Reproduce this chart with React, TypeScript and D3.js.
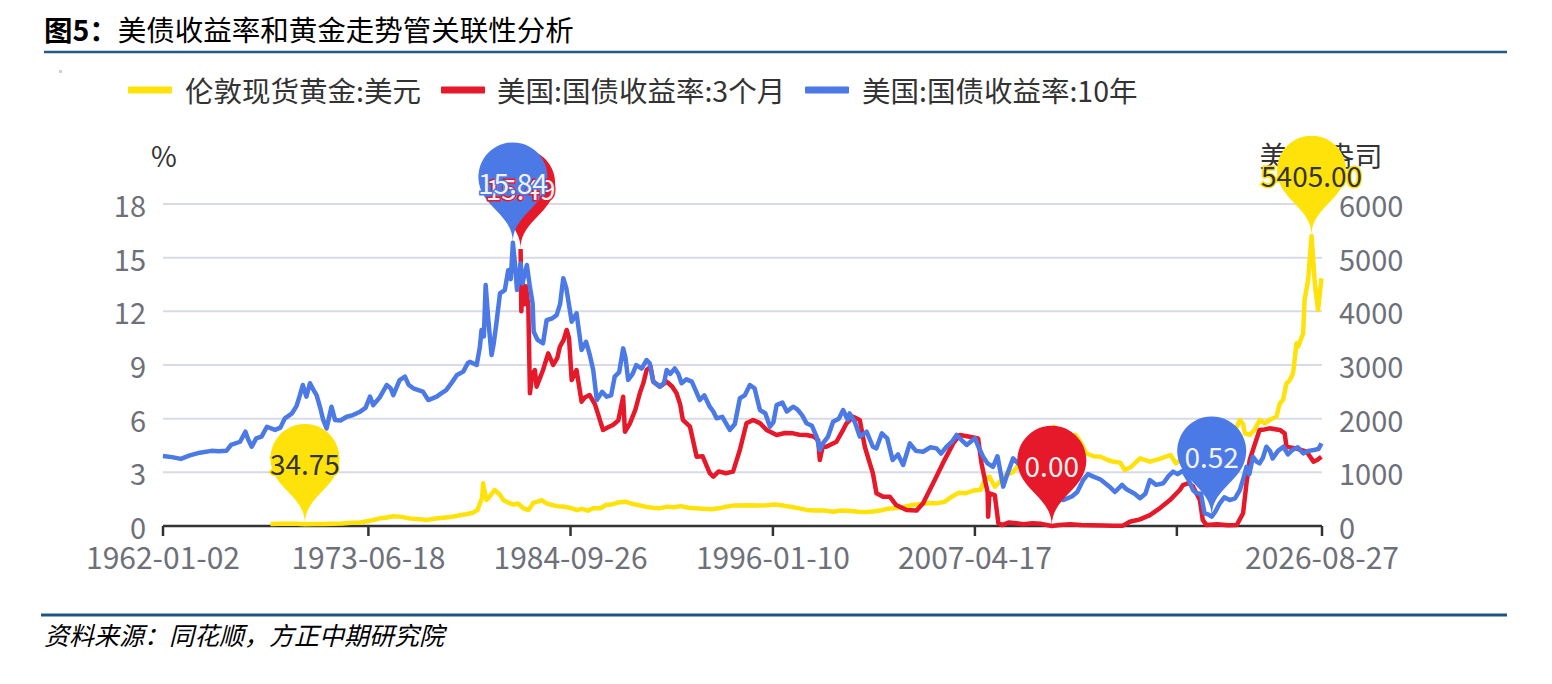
import React from "react";
import * as d3 from "d3";

const TITLE_BOLD = "图5：";
const TITLE_REST = "美债收益率和黄金走势管关联性分析";
const SOURCE = "资料来源：同花顺，方正中期研究院";
const LEGEND_NAMES = ["伦敦现货黄金:美元", "美国:国债收益率:3个月", "美国:国债收益率:10年"];
const X_TICK_DATES = ["1962-01-02", "1973-06-18", "1984-09-26", "1996-01-10", "2007-04-17", "2018-07-23", "2026-08-27"];
const X_TICK_LABELS = ["1962-01-02", "1973-06-18", "1984-09-26", "1996-01-10", "2007-04-17", "", "2026-08-27"];
const LEFT_TICKS = [0, 3, 6, 9, 12, 15, 18];
const RIGHT_TICKS = [0, 1000, 2000, 3000, 4000, 5000, 6000];
const LEFT_NAME = "%";
const RIGHT_NAME = "美元/盎司";

// [decimal year, USD/oz]
const gold: [number, number][] = [
  [1968.0, 38], [1968.5, 40], [1969.0, 42], [1969.5, 41], [1969.92, 34.75], [1970.5, 36], [1971.0, 38],
  [1971.5, 41], [1972.0, 46], [1972.5, 62], [1973.0, 65], [1973.4, 90], [1973.73, 112], [1974.1, 143],
  [1974.5, 160], [1974.85, 180], [1975.3, 170], [1975.8, 140], [1976.3, 128], [1976.7, 110], [1977.2, 140],
  [1977.8, 160], [1978.2, 175], [1978.56, 200], [1978.9, 220], [1979.3, 248], [1979.55, 300], [1979.68, 423],
  [1979.8, 520], [1979.86, 795], [1979.92, 680], [1980.05, 484], [1980.25, 560], [1980.5, 671], [1980.75, 600],
  [1981.0, 480], [1981.3, 430], [1981.54, 400], [1981.8, 420], [1982.1, 330], [1982.4, 298], [1982.65, 430],
  [1982.9, 453], [1983.15, 480], [1983.4, 420], [1983.7, 391], [1984.0, 370], [1984.4, 360], [1984.8, 330],
  [1985.1, 298], [1985.4, 320], [1985.7, 286], [1986.0, 330], [1986.4, 329], [1986.7, 391], [1987.0, 400],
  [1987.4, 440], [1987.8, 453], [1988.1, 420], [1988.5, 391], [1988.9, 360], [1989.3, 340], [1989.7, 329],
  [1990.1, 360], [1990.5, 350], [1990.9, 370], [1991.3, 340], [1991.7, 330], [1992.1, 320], [1992.6, 311],
  [1993.0, 329], [1993.4, 360], [1993.8, 380], [1994.2, 380], [1994.7, 385], [1995.2, 380], [1995.7, 385],
  [1996.1, 400], [1996.6, 380], [1997.0, 360], [1997.5, 329], [1997.9, 300], [1998.4, 290], [1998.9, 290],
  [1999.4, 267], [1999.8, 290], [2000.2, 285], [2000.8, 267], [2001.2, 260], [2001.6, 270], [2002.0, 290],
  [2002.4, 320], [2002.8, 330], [2003.3, 350], [2003.8, 391], [2004.3, 410], [2004.8, 430], [2005.15, 423],
  [2005.6, 450], [2006.0, 546], [2006.4, 620], [2006.8, 610], [2007.2, 660], [2007.6, 671], [2007.85, 857],
  [2008.1, 919], [2008.4, 733], [2008.7, 830], [2009.0, 950], [2009.4, 1000], [2009.8, 1168], [2010.2, 1120],
  [2010.6, 1250], [2011.0, 1420], [2011.4, 1550], [2011.7, 1850], [2012.0, 1700], [2012.5, 1650],
  [2012.9, 1700], [2013.2, 1550], [2013.5, 1355], [2013.9, 1300], [2014.3, 1291], [2014.7, 1230],
  [2015.0, 1200], [2015.4, 1180], [2015.65, 1043], [2016.0, 1100], [2016.5, 1261], [2017.05, 1198],
  [2017.6, 1250], [2018.2, 1323], [2018.5, 1168], [2019.0, 1290], [2019.5, 1400], [2019.9, 1500],
  [2020.3, 1700], [2020.6, 1950], [2021.0, 1850], [2021.5, 1800], [2021.9, 1850], [2022.07, 1975],
  [2022.25, 1900], [2022.35, 1727], [2022.62, 1696], [2022.9, 1800], [2023.18, 1975], [2023.46, 1913],
  [2023.8, 1990], [2024.11, 2037], [2024.3, 2286], [2024.48, 2348], [2024.67, 2659], [2024.86, 2720],
  [2025.04, 2845], [2025.23, 3404], [2025.32, 3341], [2025.6, 3590], [2025.68, 4211], [2025.88, 4584],
  [2026.07, 5405], [2026.25, 4522], [2026.43, 4025], [2026.62, 4615],
];

// [decimal year, %]
const bill3m: [number, number][] = [
  [1981.95, 15.49], [1981.99, 12.0], [1982.05, 13.6], [1982.15, 12.4], [1982.25, 13.4], [1982.38, 12.26],
  [1982.47, 7.42], [1982.6, 8.5], [1982.75, 8.72], [1982.84, 7.79], [1983.0, 8.2], [1983.2, 8.72],
  [1983.49, 9.65], [1983.77, 9.0], [1984.0, 9.4], [1984.14, 10.02], [1984.35, 10.4], [1984.52, 10.96],
  [1984.65, 10.5], [1984.8, 8.16], [1985.07, 8.72], [1985.35, 6.95], [1985.55, 7.2], [1985.8, 7.32],
  [1986.1, 6.8], [1986.37, 5.93], [1986.55, 5.37], [1986.8, 5.5], [1987.1, 5.65], [1987.4, 5.9],
  [1987.67, 7.23], [1987.77, 5.27], [1988.05, 5.74], [1988.35, 6.5], [1988.6, 7.42], [1988.8, 8.0],
  [1988.98, 8.72], [1989.2, 8.9], [1989.35, 8.07], [1989.72, 7.79], [1990.1, 8.07], [1990.4, 7.8],
  [1990.65, 7.42], [1990.85, 6.8], [1991.0, 5.93], [1991.4, 5.55], [1991.77, 3.87], [1992.1, 3.9],
  [1992.5, 2.95], [1992.7, 2.76], [1993.0, 3.05], [1993.4, 2.95], [1993.8, 3.04], [1994.18, 4.25],
  [1994.55, 5.74], [1994.92, 5.93], [1995.3, 5.75], [1995.67, 5.37], [1996.23, 5.09], [1996.7, 5.2],
  [1997.15, 5.18], [1997.5, 5.1], [1997.9, 5.09], [1998.3, 5.0], [1998.55, 4.8], [1998.64, 3.69],
  [1998.8, 4.43], [1999.0, 4.43], [1999.57, 4.71], [1999.9, 5.3], [2000.13, 5.74], [2000.5, 6.11],
  [2000.87, 5.93], [2001.15, 4.43], [2001.43, 3.5], [2001.6, 2.95], [2001.8, 1.83], [2002.17, 1.64],
  [2002.54, 1.64], [2002.9, 1.17], [2003.48, 0.89], [2004.03, 0.86], [2004.4, 1.27], [2004.96, 2.39],
  [2005.5, 3.5], [2006.08, 4.62], [2006.45, 5.09], [2007.0, 4.99], [2007.47, 4.9], [2007.66, 3.5],
  [2007.85, 2.57], [2008.0, 1.9], [2008.03, 0.52], [2008.1, 1.83], [2008.4, 1.73], [2008.6, 0.15],
  [2008.8, 0.05], [2009.2, 0.2], [2009.6, 0.15], [2010.0, 0.1], [2010.5, 0.15], [2011.0, 0.12],
  [2011.58, 0.0], [2012.0, 0.05], [2012.6, 0.1], [2013.2, 0.06], [2013.8, 0.04], [2014.5, 0.03],
  [2015.0, 0.02], [2015.55, 0.02], [2015.93, 0.24], [2016.5, 0.37], [2017.05, 0.61], [2017.6, 0.99],
  [2018.17, 1.45], [2018.72, 2.01], [2018.9, 2.29], [2019.2, 2.4], [2019.46, 2.2], [2019.84, 1.45],
  [2020.0, 0.34], [2020.2, 0.06], [2020.8, 0.1], [2021.4, 0.04], [2021.9, 0.06], [2022.25, 0.71],
  [2022.44, 2.39], [2022.62, 3.69], [2022.85, 4.4], [2023.17, 5.37], [2023.45, 5.4], [2023.73, 5.46],
  [2024.3, 5.37], [2024.57, 5.18], [2024.67, 4.43], [2025.2, 4.34], [2025.8, 4.15], [2026.18, 3.59],
  [2026.4, 3.7], [2026.62, 3.87],
];

// [decimal year, %]
const note10y: [number, number][] = [
  [1962.0, 3.91], [1962.5, 3.85], [1963.0, 3.75], [1963.5, 3.95], [1964.06, 4.1], [1964.7, 4.2],
  [1965.1, 4.18], [1965.55, 4.21], [1965.8, 4.53], [1966.3, 4.71], [1966.6, 5.27], [1966.75, 4.85],
  [1966.95, 4.43], [1967.2, 4.9], [1967.5, 5.0], [1967.8, 5.55], [1968.25, 5.37], [1968.55, 5.5],
  [1968.8, 6.02], [1969.2, 6.3], [1969.45, 6.7], [1969.64, 7.32], [1969.8, 7.88], [1970.0, 7.23],
  [1970.2, 7.98], [1970.4, 7.6], [1970.57, 7.32], [1970.8, 6.5], [1970.94, 5.93], [1971.13, 5.46],
  [1971.4, 6.67], [1971.6, 5.93], [1971.9, 5.9], [1972.25, 6.11], [1972.6, 6.2], [1973.0, 6.39],
  [1973.3, 6.6], [1973.55, 7.23], [1973.73, 6.76], [1974.1, 7.2], [1974.48, 7.88], [1974.7, 7.7],
  [1974.85, 7.32], [1975.2, 8.16], [1975.5, 8.35], [1975.7, 7.9], [1975.96, 7.7], [1976.5, 7.51],
  [1976.8, 7.04], [1977.27, 7.23], [1977.5, 7.4], [1977.8, 7.6], [1978.1, 8.0], [1978.4, 8.44],
  [1978.75, 8.63], [1979.0, 9.1], [1979.12, 9.18], [1979.5, 9.0], [1979.68, 10.02], [1979.77, 10.96],
  [1979.9, 10.6], [1980.0, 13.47], [1980.15, 11.5], [1980.33, 9.56], [1980.45, 10.2], [1980.6, 11.33],
  [1980.8, 13.0], [1981.07, 13.19], [1981.26, 14.3], [1981.4, 13.8], [1981.52, 15.84], [1981.65, 14.5],
  [1981.75, 13.19], [1981.95, 14.68], [1982.05, 13.56], [1982.3, 14.59], [1982.45, 13.5], [1982.62, 12.45],
  [1982.68, 10.86], [1982.9, 10.4], [1983.2, 10.21], [1983.4, 11.51], [1983.7, 11.6], [1983.96, 11.79],
  [1984.15, 12.4], [1984.33, 13.85], [1984.5, 13.3], [1984.8, 11.42], [1985.07, 11.89], [1985.35, 9.84],
  [1985.6, 10.3], [1985.8, 9.6], [1986.0, 8.72], [1986.2, 7.04], [1986.5, 7.5], [1986.75, 7.23],
  [1987.0, 7.3], [1987.2, 8.35], [1987.45, 8.6], [1987.67, 9.93], [1987.8, 9.4], [1987.95, 8.16],
  [1988.2, 8.5], [1988.4, 9.0], [1988.7, 8.8], [1988.98, 9.28], [1989.15, 9.1], [1989.35, 8.07],
  [1989.72, 7.79], [1989.95, 8.0], [1990.1, 8.72], [1990.3, 8.5], [1990.55, 8.81], [1990.75, 8.5],
  [1990.93, 7.98], [1991.2, 8.2], [1991.5, 8.07], [1991.75, 7.5], [1991.95, 7.04], [1992.2, 7.3],
  [1992.5, 6.67], [1992.7, 6.4], [1992.88, 6.02], [1993.2, 6.1], [1993.62, 5.37], [1993.9, 5.7],
  [1994.18, 7.14], [1994.45, 7.3], [1994.74, 7.88], [1995.0, 7.7], [1995.3, 6.48], [1995.6, 6.3],
  [1995.86, 5.55], [1996.05, 5.8], [1996.23, 6.76], [1996.55, 6.9], [1996.8, 6.4], [1997.15, 6.67],
  [1997.4, 6.5], [1997.65, 6.2], [1997.9, 5.74], [1998.2, 5.6], [1998.46, 4.99], [1998.64, 4.25],
  [1998.8, 4.6], [1999.1, 5.0], [1999.38, 5.83], [1999.7, 6.0], [1999.94, 6.48], [2000.2, 5.93],
  [2000.3, 6.3], [2000.6, 5.8], [2000.87, 5.0], [2001.25, 5.27], [2001.6, 4.43], [2001.8, 4.34],
  [2002.1, 5.18], [2002.4, 4.9], [2002.7, 3.69], [2003.0, 4.0], [2003.29, 3.41], [2003.66, 4.62],
  [2004.0, 4.2], [2004.4, 4.15], [2004.8, 4.4], [2005.15, 4.34], [2005.4, 4.05], [2005.71, 4.43],
  [2006.0, 4.7], [2006.27, 5.09], [2006.55, 4.8], [2006.83, 4.53], [2007.1, 4.75], [2007.3, 4.9],
  [2007.5, 4.4], [2007.75, 3.87], [2008.0, 3.5], [2008.3, 3.31], [2008.55, 3.9], [2008.87, 2.2],
  [2009.1, 2.9], [2009.42, 3.78], [2009.8, 3.4], [2010.17, 3.7], [2010.5, 2.8], [2010.9, 3.3],
  [2011.2, 3.5], [2011.6, 2.1], [2011.9, 1.9], [2012.2, 1.45], [2012.7, 1.65], [2013.0, 1.9],
  [2013.33, 2.57], [2013.6, 2.9], [2013.9, 2.76], [2014.3, 2.6], [2014.8, 2.2], [2015.1, 1.9],
  [2015.5, 2.3], [2015.75, 2.05], [2016.2, 1.8], [2016.5, 1.55], [2016.8, 1.8], [2017.05, 2.57],
  [2017.4, 2.3], [2017.8, 2.39], [2018.1, 2.8], [2018.35, 3.04], [2018.6, 2.9], [2018.9, 3.1],
  [2019.2, 2.6], [2019.46, 2.01], [2019.65, 1.83], [2019.9, 1.8], [2020.1, 0.71], [2020.3, 0.65],
  [2020.5, 0.52], [2020.7, 0.8], [2020.95, 1.27], [2021.2, 1.6], [2021.5, 1.45], [2021.8, 1.55],
  [2022.07, 2.01], [2022.25, 2.6], [2022.44, 3.31], [2022.6, 2.9], [2022.8, 3.87], [2023.0, 3.6],
  [2023.17, 3.5], [2023.35, 3.8], [2023.55, 4.43], [2023.75, 4.2], [2023.9, 3.78], [2024.2, 4.2],
  [2024.5, 4.43], [2024.75, 4.0], [2025.0, 4.25], [2025.3, 4.4], [2025.6, 4.06], [2025.9, 4.2],
  [2026.2, 4.25], [2026.45, 4.3], [2026.62, 4.62],
];

const GOLD = "#ffe20a";
const RED = "#e6192b";
const BLUE = "#4b79e6";
const FONT = '"Noto Sans CJK SC", "Noto Sans", sans-serif';

const toYear = (s: string) => {
  const d = new Date(s + "T00:00:00Z");
  const y = d.getUTCFullYear();
  const a = Date.UTC(y, 0, 1);
  const b = Date.UTC(y + 1, 0, 1);
  return y + (d.getTime() - a) / (b - a);
};

const PLOT = { left: 163, right: 1322, top: 204, bottom: 526 };

const x = d3.scaleLinear().domain([toYear(X_TICK_DATES[0]), toYear(X_TICK_DATES[X_TICK_DATES.length - 1])]).range([PLOT.left, PLOT.right]);
const yL = d3.scaleLinear().domain([0, 18]).range([PLOT.bottom, PLOT.top]);
const yR = d3.scaleLinear().domain([0, 6000]).range([PLOT.bottom, PLOT.top]);

function pinPath(px: number, py: number, S: number) {
  const w = (S / 5) * 3;
  const h = Math.max(w, S);
  const r = w / 2;
  const dy = (r * r) / (h - r);
  const cy = py - h + r + dy;
  const angle = Math.asin(dy / r);
  const dx = Math.cos(angle) * r;
  const tanX = Math.sin(angle);
  const tanY = Math.cos(angle);
  const cpLen = r * 0.6;
  const cpLen2 = r * 0.7;
  const p = d3.path();
  p.moveTo(px - dx, cy + dy);
  p.arc(px, cy, r, Math.PI - angle, Math.PI * 2 + angle);
  p.bezierCurveTo(px + dx - tanX * cpLen, cy + dy + tanY * cpLen, px, py - cpLen2, px, py);
  p.bezierCurveTo(px, py - cpLen2, px - dx + tanX * cpLen, cy + dy + tanY * cpLen, px - dx, cy + dy);
  p.closePath();
  return p.toString();
}

type Pin = { px: number; py: number; label: string; color: string; textColor: string };

function extremes(data: [number, number][], ys: d3.ScaleLinear<number, number>, color: string, textColor: string, digits: number): Pin[] {
  const mn = data.reduce((a, b) => (b[1] < a[1] ? b : a));
  const mx = data.reduce((a, b) => (b[1] > a[1] ? b : a));
  return [mx, mn].map((d) => ({ px: x(d[0]), py: ys(d[1]), label: d[1].toFixed(digits), color, textColor }));
}

export default function App() {
  const lineL = d3.line<[number, number]>().x((d) => x(d[0])).y((d) => yL(d[1]));
  const lineR = d3.line<[number, number]>().x((d) => x(d[0])).y((d) => yR(d[1]));

  const pins: Pin[] = [
    ...extremes(gold, yR, GOLD, "#333", 2),
    ...extremes(bill3m, yL, RED, "#f2f2f2", 2),
    ...extremes(note10y, yL, BLUE, "#f2f2f2", 2),
  ];
  const S = 115;

  const legendItems = [
    { name: LEGEND_NAMES[0], color: GOLD, lx: 128, tx: 185 },
    { name: LEGEND_NAMES[1], color: RED, lx: 441, tx: 497 },
    { name: LEGEND_NAMES[2], color: BLUE, lx: 805, tx: 862 },
  ];

  return (
    <svg width={1552} height={684} style={{ position: "absolute", left: 0, top: 0, background: "#fff" }} fontFamily={FONT}>
      <rect x={0} y={0} width={1552} height={684} fill="#fff" />
      {/* title */}
      <text x={44} y={41} fontSize={28.5} fill="#000">
        <tspan fontWeight="bold">{TITLE_BOLD}</tspan>
        <tspan>{TITLE_REST}</tspan>
      </text>
      <line x1={44} x2={1507} y1={52} y2={52} stroke="#215a8e" strokeWidth={2.5} />
      <rect x={59} y={70} width={3} height={3} fill="#d0d0d0" />

      {/* legend */}
      {legendItems.map((l) => (
        <g key={l.name}>
          <rect x={l.lx} y={86.5} width={44} height={7} fill={l.color} rx={1} />
          <text x={l.tx} y={89} fontSize={28.5} fill="#333" dominantBaseline="central">{l.name}</text>
        </g>
      ))}

      {/* grid */}
      {LEFT_TICKS.filter((t) => t > 0).map((t) => (
        <line key={t} x1={PLOT.left} x2={PLOT.right} y1={yL(t)} y2={yL(t)} stroke="#d8dbe5" strokeWidth={2} />
      ))}

      {/* axis */}
      <line x1={PLOT.left} x2={PLOT.right} y1={PLOT.bottom} y2={PLOT.bottom} stroke="#333" strokeWidth={2.5} />
      {X_TICK_DATES.map((d) => (
        <line key={d} x1={x(toYear(d))} x2={x(toYear(d))} y1={PLOT.bottom} y2={PLOT.bottom + 10} stroke="#333" strokeWidth={2.5} />
      ))}
      {X_TICK_DATES.map((d, i) => (
        <text key={d} x={x(toYear(d))} y={556} fontSize={30} fill="#6e7079" textAnchor="middle" dominantBaseline="central">{X_TICK_LABELS[i]}</text>
      ))}
      {LEFT_TICKS.map((t) => (
        <text key={t} x={146} y={yL(t)} fontSize={29} fill="#6e7079" textAnchor="end" dominantBaseline="central">{t}</text>
      ))}
      {RIGHT_TICKS.map((t) => (
        <text key={t} x={1339} y={yR(t)} fontSize={29} fill="#6e7079" textAnchor="start" dominantBaseline="central">{t}</text>
      ))}
      <text x={164} y={155} fontSize={28} fill="#333" textAnchor="middle" dominantBaseline="central">{LEFT_NAME}</text>
      <text x={1321} y={155} fontSize={28} fill="#333" textAnchor="middle" dominantBaseline="central">{RIGHT_NAME}</text>

      {/* series */}
      <path d={lineR(gold) ?? ""} fill="none" stroke={GOLD} strokeWidth={4.5} strokeLinejoin="round" />
      <path d={lineL(bill3m) ?? ""} fill="none" stroke={RED} strokeWidth={4.5} strokeLinejoin="round" />
      <path d={lineL(note10y) ?? ""} fill="none" stroke={BLUE} strokeWidth={4.5} strokeLinejoin="round" />

      {/* mark points */}
      {pins.map((p, i) => (
        <path key={"p" + i} d={pinPath(p.px, p.py, S)} fill={p.color} />
      ))}
      {pins.map((p, i) => (
        <text
          key={"t" + i}
          x={p.px}
          y={p.py - 61}
          fontSize={28}
          fill={p.textColor}
          stroke={p.color}
          strokeWidth={3}
          paintOrder="stroke"
          textAnchor="middle"
          dominantBaseline="central"
        >
          {p.label}
        </text>
      ))}

      {/* source */}
      <line x1={41} x2={1507} y1={615} y2={615} stroke="#1f5486" strokeWidth={3} />
      <text x={44} y={634} fontSize={25} fill="#000" fontStyle="italic" dominantBaseline="central">{SOURCE}</text>
    </svg>
  );
}
